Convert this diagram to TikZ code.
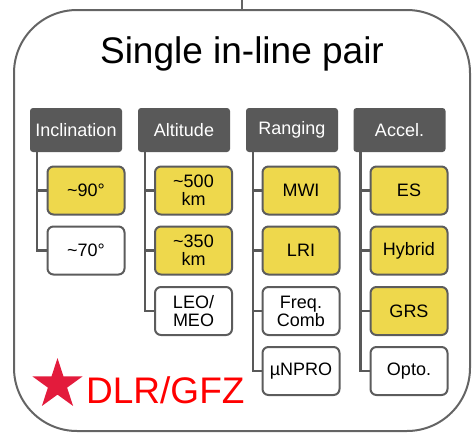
\documentclass[tikz,border=0pt]{standalone}
\usepackage{fontspec}
\setmainfont{Liberation Sans}
\usetikzlibrary{shapes.geometric,backgrounds}
\definecolor{hdr}{RGB}{89,89,89}
\definecolor{edge}{RGB}{92,92,92}
\definecolor{frameline}{RGB}{100,100,100}
\definecolor{gold}{RGB}{238,216,76}
\definecolor{crimson}{RGB}{227,27,60}
\begin{document}
\begin{tikzpicture}[x=1pt,y=-1pt,
  frame/.style={draw=frameline, line width=2pt, rounded corners=63pt,
    minimum width=456pt, minimum height=421pt, inner sep=0pt},
  header/.style={fill=hdr, text=white, rounded corners=3pt,
    minimum width=92pt, minimum height=44pt, inner sep=0pt,
    font=\fontsize{18}{18}\selectfont},
  opt/.style={draw=edge, line width=2pt, rounded corners=6pt,
    minimum width=77pt, minimum height=48pt, inner sep=0pt, align=center,
    font=\fontsize{18}{18}\selectfont},
  picked/.style={opt, fill=gold},
  plain/.style={opt, fill=white},
  branch/.style={draw=hdr, line width=2.5pt},
]
\useasboundingbox (0,0) rectangle (472,434);

% outer frame and its stem
\node[frame] (pair) at (242,220.5) {};
\coordinate (stem) at (242,0);
\draw[frameline, line width=2pt] (pair.north) -- (stem);

\node[anchor=base, font=\fontsize{37}{37}\selectfont] (title) at (242,63) {Single in-line pair};

% column headers
\node[header] (h1) at (76,130) {Inclination};
\node[header] (h2) at (184,130) {Altitude};
\node[header] (h3) at (292,130) {Ranging};
\node[header] (h4) at (399.5,130) {Accel.};

% options
\node[picked] (a1) at (86,190.5) {\textasciitilde90°};
\node[plain]  (a2) at (86,250.5) {\textasciitilde70°};

\node[picked] (b1) at (193.5,190.5) {\textasciitilde500\\km};
\node[picked] (b2) at (193.5,250.5) {\textasciitilde350\\km};
\node[plain]  (b3) at (193.5,311) {LEO/\\MEO};

\node[picked] (c1) at (301,190.5) {MWI};
\node[picked] (c2) at (301,250.5) {LRI};
\node[plain]  (c3) at (301,311) {Freq.\\Comb};
\node[plain]  (c4) at (301,371) {µNPRO};

\node[picked] (d1) at (409,190.5) {ES};
\node[picked] (d2) at (409,250.5) {Hybrid};
\node[picked] (d3) at (409,311) {GRS};
\node[plain]  (d4) at (409,371) {Opto.};

% tree branches, behind the boxes
\coordinate (t1) at ([xshift=7pt]h1.south west);
\coordinate (t2) at ([xshift=7pt]h2.south west);
\coordinate (t3) at ([xshift=7pt]h3.south west);
\coordinate (t4) at ([xshift=7pt]h4.south west);

\begin{pgfonlayer}{background}
\draw[branch] (t1) |- (a2.west);
\draw[branch] (t1 |- a1.west) -- (a1.west);

\draw[branch] (t2) |- (b3.west);
\foreach \n in {b1,b2} \draw[branch] (t2 |- \n.west) -- (\n.west);

\draw[branch] (t3) |- (c4.west);
\foreach \n in {c1,c2,c3} \draw[branch] (t3 |- \n.west) -- (\n.west);

\draw[branch] (t4) |- (d4.west);
\foreach \n in {d1,d2,d3} \draw[branch] (t4 |- \n.west) -- (\n.west);
\end{pgfonlayer}

% affiliation mark
\node[star, star points=5, star point ratio=2.618, fill=crimson,
  minimum size=53pt, inner sep=0pt] (mark) at (57.5,384.5) {};
\node[anchor=base west, text=red, font=\fontsize{37}{37}\selectfont,
  inner sep=0pt] (org) at (86,403) {DLR/GFZ};
\end{tikzpicture}
\end{document}
